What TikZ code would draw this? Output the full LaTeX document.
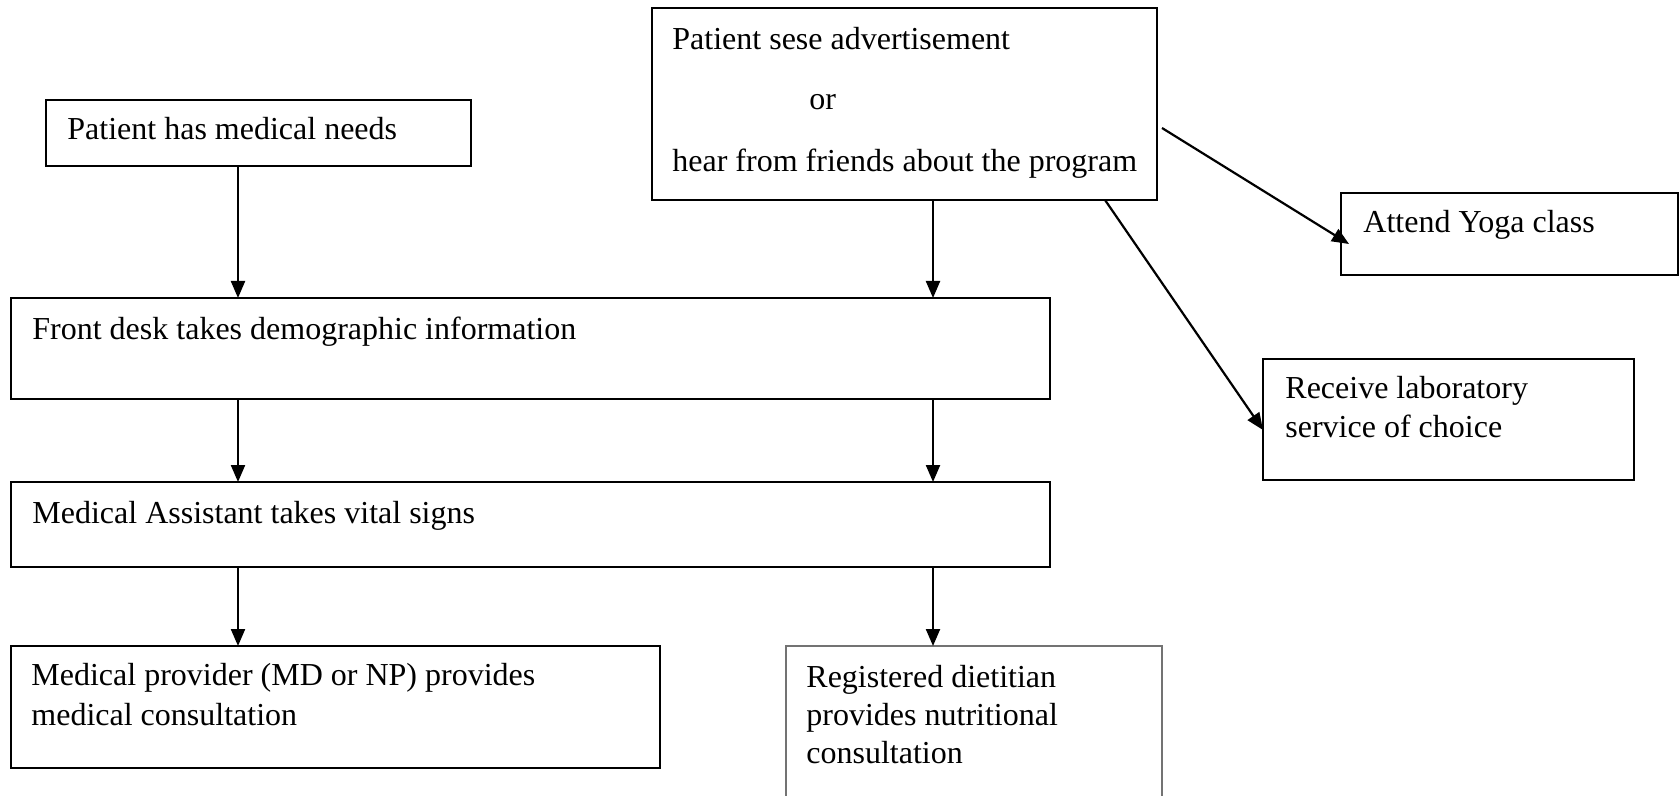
\documentclass[tikz,border=0pt]{standalone}
\usepackage{fontspec}
\setmainfont{Liberation Serif}
\usetikzlibrary{arrows.meta,fit}
\begin{document}
\begin{tikzpicture}[x=0.5pt,y=-0.5pt,
  box/.style={draw=black, line width=1.1pt, rectangle, inner sep=0pt, outer sep=0pt},
  lightbox/.style={draw=black!55, line width=0.7pt, rectangle, inner sep=0pt, outer sep=0pt},
  txt/.style={anchor=base west, inner sep=0pt, font=\fontsize{16}{19.5}\selectfont},
  arr/.style={draw=black, line width=1.1pt, -{Triangle[length=8.5pt,width=7pt]}}]
\useasboundingbox (0,0) rectangle (1679,796);
% boxes
\node[box, fit={(46,100) (471,166)}] (need) {};
\node[box, fit={(652,8) (1157,200)}] (adv) {};
\node[box, fit={(1341,193) (1678,275)}] (yoga) {};
\node[box, fit={(1263,359) (1634,480)}] (lab) {};
\node[box, fit={(11,298) (1050,399)}] (fd) {};
\node[box, fit={(11,482) (1050,567)}] (ma) {};
\node[box, fit={(11,646) (660,768)}] (prov) {};
\node[lightbox, fit={(786,646) (1162,805)}] (diet) {};
% texts
\node[txt] (t1) at (67,140) {Patient has medical needs};
\node[txt] (t2a) at (672,50) {Patient sese advertisement};
\node[txt] (t2b) at (809,110) {or};
\node[txt] (t2c) at (672,172) {hear from friends about the program};
\node[txt] (t3) at (1363,233) {Attend Yoga class};
\node[txt] (t4a) at (1285,398) {Receive laboratory};
\node[txt] (t4b) at (1285,437) {service of choice};
\node[txt] (t5) at (32,340) {Front desk takes demographic information};
\node[txt] (t6) at (32,523) {Medical Assistant takes vital signs};
\node[txt] (t7a) at (31,685) {Medical provider (MD or NP) provides};
\node[txt] (t7b) at (31,725) {medical consultation};
\node[txt] (t8a) at (806,687) {Registered dietitian};
\node[txt] (t8b) at (806,725) {provides nutritional};
\node[txt] (t8c) at (806,763) {consultation};
% connector guides
\coordinate (L) at (238,0);
\coordinate (R) at (933,0);
\coordinate (ys) at (1162,128);
\coordinate (ye) at (1349,244);
\coordinate (ls) at (1105,0);
\coordinate (le) at (0,430);
% connectors
\draw[arr] (need.south -| L) -- (fd.north -| L);
\draw[arr] (adv.south -| R) -- (fd.north -| R);
\draw[arr] (fd.south -| L) -- (ma.north -| L);
\draw[arr] (fd.south -| R) -- (ma.north -| R);
\draw[arr] (ma.south -| L) -- (prov.north -| L);
\draw[arr] (ma.south -| R) -- (diet.north -| R);
\draw[arr] (ys) -- (ye);
\draw[arr] (adv.south -| ls) -- (lab.west |- le);
\end{tikzpicture}
\end{document}
